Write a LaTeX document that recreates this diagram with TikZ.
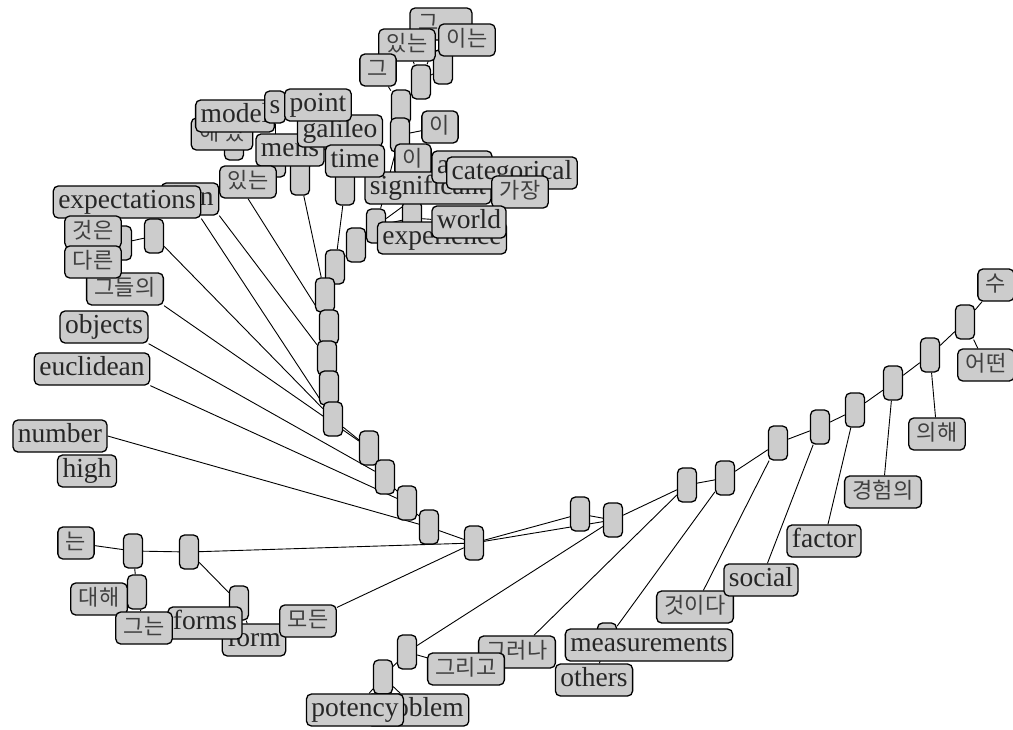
\documentclass[tikz,border=0pt]{standalone}
\usepackage{fontspec}
\setmainfont{Liberation Serif}
\newfontfamily\kr{Noto Sans CJK KR}
\usetikzlibrary{backgrounds}

\begin{document}
\begin{tikzpicture}[x=1pt,y=-1pt,
    knot/.style={draw,line width=1.3pt,fill=black!20,rounded corners=5pt,minimum width=19pt,minimum height=34pt,inner sep=0pt},
    lbl/.style={draw,line width=1.3pt,fill=black!20,rounded corners=5pt,inner xsep=5pt,inner ysep=3.5pt,text height=19pt,text depth=6pt,text=black!85,font=\fontsize{27.5}{29}\selectfont},
    klbl/.style={lbl,inner xsep=8pt,text=black!75,font=\kr\fontsize{22}{26}\selectfont},
    link/.style={line width=0.9pt}]
  \useasboundingbox (0,0) rectangle (1013,729);
  % inner knots
  \foreach \n/\x/\y in {s1/356/245,s2/335/267,s3/325/295,s4/329/327,s5/327/358,s6/329/388,s7/333/419,
      s8/369/448,s9/385/477,s10/407/503,s11/429/527,root/474/543,
      r1/580/514,r2/613/520,r3/687/485,r4/725/478,r5/778/443,r6/820/427,r7/855/410,r8/893/383,r9/930/355,r10/965/322,
      b1/407/652,b2/383/677,b3/607/640,
      d1/189/552,d2/133/551,d3/137/592,d4/239/603,
      t1/443/67,t2/421/82,t3/401/107,t4/400/135,t5/376/226,t6/412/218,t7/345/188,t8/300/178,t9/276/160,t10/234/143,
      e1/154/236,e2/122/243}
    \node[knot] (\n) at (\x,\y) {};

  % top cluster
  \node[klbl,text width=46pt,align=left] (ta) at (441,24) {그};
  \node[klbl] (tb) at (407,45) {있는};
  \node[klbl] (tc) at (467,40) {이는};
  \node[klbl] (td) at (378,70) {그};
  \node[klbl] (te) at (440,127) {이};
  \node[klbl] (tf) at (413,160) {이};
  \node[lbl] (tj) at (428,188) {significant};
  \node[lbl,text width=50pt,align=left] (tg) at (462,167) {a};
  \node[lbl] (th) at (512,173) {categorical};
  \node[klbl] (ti) at (520,192) {가장};
  \node[lbl] (tl) at (442,238) {experience};
  \node[lbl] (tk) at (469,222) {world};
  \node[lbl] (tq) at (290,150) {mens};
  \node[klbl] (tp) at (222,134) {해 있};
  \node[lbl] (tm) at (235,116) {model};
  \node[lbl] (tn) at (275,107) {s};
  \node[lbl] (tr) at (340,131) {galileo};
  \node[lbl] (to) at (318,105) {point};
  \node[lbl] (ts) at (355,161) {time};

  % left fan
  \node[lbl] (than) at (190,199) {than};
  \node[klbl] (itnun) at (248,182) {있는};
  \node[lbl] (expect) at (127,202) {expectations};
  \node[klbl] (geoseun) at (93,232) {것은};
  \node[klbl] (theirs) at (125,289) {그들의};
  \node[klbl] (dareun) at (93,262) {다른};
  \node[lbl] (objects) at (104,327) {objects};
  \node[lbl] (euclid) at (92,369) {euclidean};
  \node[lbl] (number) at (60,436) {number};
  \node[lbl] (high) at (87,471) {high};

  % bottom left
  \node[klbl] (neun) at (76,543) {는};
  \node[klbl] (daehae) at (99,599) {대해};
  \node[lbl] (form) at (254,640) {form};
  \node[lbl] (forms) at (205,623) {forms};
  \node[klbl] (geuneun) at (144,628) {그는};
  \node[klbl] (modeun) at (308,621) {모든};

  % bottom
  \node[klbl] (geureona) at (517,652) {그러나};
  \node[klbl] (geurigo) at (466,669) {그리고};
  \node[lbl] (measure) at (649,645) {measurements};
  \node[lbl] (others) at (594,680) {others};
  \node[lbl] (problem) at (418,710) {problem};
  \node[lbl] (potency) at (355,710) {potency};

  % right
  \node[klbl] (geosida) at (695,607) {것이다};
  \node[lbl] (social) at (761,580) {social};
  \node[lbl] (factor) at (824,541) {factor};
  \node[klbl] (gyeongheom) at (883,492) {경험의};
  \node[klbl] (uihae) at (937,434) {의해};
  \node[klbl] (eotteon) at (986,365) {어떤};
  \node[klbl] (su) at (996,285) {수};

  \begin{scope}[on background layer]
    \foreach \a/\b in {s1/s2,s2/s3,s3/s4,s4/s5,s5/s6,s6/s7,s7/s8,s8/s9,s9/s10,s10/s11,s11/root,
        root/r1,root/r2,r1/r2,r2/r3,r3/r4,r4/r5,r5/r6,r6/r7,r7/r8,r8/r9,r9/r10,
        r10/su,r10/eotteon,r9/uihae,r8/gyeongheom,r7/factor,r6/social,r5/geosida,
        r4/b3,b3/measure,b3/others,r3/geureona,r2/b1,b1/geurigo,b1/b2,b2/potency,b2/problem,root/modeun,
        root/d1,d1/d2,d2/neun,d2/d3,d3/daehae,d3/geuneun,d1/d4,d4/forms,d4/form,
        t1/t2,t2/t3,t3/t4,t4/t5,t5/s1,t1/tc,t2/tb,t2/ta,t3/td,t4/te,t4/tf,t5/tj,t5/t6,t6/tk,t6/tl,
        t7/ts,t7/s2,t8/tr,t8/to,t8/s3,t9/tq,t9/tn,t10/tm,t10/tp,e1/e2,e2/geoseun,e2/dareun,e1/s7}
      \draw[link] (\a) -- (\b);
    \draw[link] (expect.south east) -- (s7);
    \draw[link] (than.south east) -- (s5);
    \draw[link] (itnun.south) -- (s4);
    \draw[link] (theirs.south east) -- (s8);
    \draw[link] (objects.south east) -- (s9);
    \draw[link] (euclid.south east) -- (s10);
    \draw[link] (number.east) -- (s11);
  \end{scope}
\end{tikzpicture}
\end{document}
